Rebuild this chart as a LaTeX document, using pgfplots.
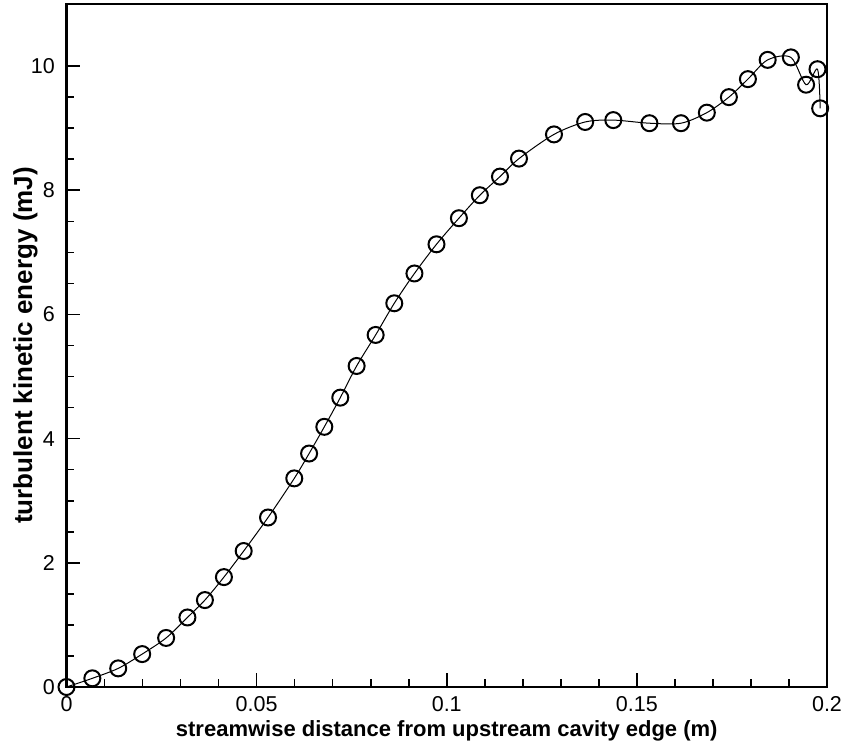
\documentclass[border=0pt]{standalone}
\usepackage{fontspec}
\setmainfont{Liberation Sans}
\usepackage{pgfplots}
\pgfplotsset{compat=1.18}
\begin{document}
\begin{tikzpicture}
\begin{axis}[
  scale only axis,
  width=760.5pt, height=683pt,
  xmin=0, xmax=0.2, ymin=0, ymax=11,
  xtick={0,0.05,0.1,0.15,0.2},
  xticklabels={0,0.05,0.1,0.15,0.2},
  ytick={0,2,4,6,8,10},
  yticklabels={0,2,4,6,8,10},
  minor x tick num=4,
  minor y tick num=3,
  tick align=inside,
  tick pos=left,
  major tick length=14pt,
  minor tick length=8pt,
  tick style={black, line width=1.6pt},
  axis line style={black, line width=2.6pt},
  ticklabel style={font=\fontsize{21.5}{24}\selectfont},
  xticklabel style={anchor=center, inner sep=0pt, yshift=-17pt},
  yticklabel style={anchor=east, inner sep=0pt, xshift=-11.5pt},
  xlabel={\bfseries streamwise distance from upstream cavity edge (m)},
  ylabel={\bfseries turbulent kinetic energy (mJ)},
  xlabel style={font=\fontsize{22}{24}\selectfont, at={(rel axis cs:0.5,0)}, anchor=center, yshift=-44pt},
  ylabel style={font=\fontsize{26}{28}\selectfont, at={(rel axis cs:0,0.5)}, anchor=center, yshift=41pt},
  clip=false,
]
\addplot[black, line width=1pt, smooth, tension=0.5, mark=o, mark size=8pt,
  mark options={line width=2pt, solid}] coordinates {
(0,0)
(0.0068,0.14)
(0.0136,0.30)
(0.0199,0.53)
(0.0262,0.79)
(0.0318,1.12)
(0.0364,1.40)
(0.0414,1.77)
(0.0466,2.19)
(0.0530,2.73)
(0.0599,3.36)
(0.0638,3.76)
(0.0678,4.19)
(0.0720,4.66)
(0.0763,5.17)
(0.0813,5.67)
(0.0862,6.18)
(0.0915,6.66)
(0.0973,7.13)
(0.1032,7.55)
(0.1087,7.92)
(0.1140,8.22)
(0.1190,8.51)
(0.1282,8.90)
(0.1364,9.10)
(0.1438,9.13)
(0.1533,9.08)
(0.1616,9.08)
(0.1684,9.25)
(0.1742,9.50)
(0.1792,9.79)
(0.1844,10.10)
(0.1905,10.14)
(0.1945,9.70)
(0.1975,9.95)
(0.1982,9.32)
};
\coordinate (ll) at (rel axis cs:0,0);
\coordinate (ur) at (rel axis cs:1,1);
\end{axis}
\pgfresetboundingbox
\path ([xshift=-66.5pt,yshift=-60pt]ll) rectangle ([xshift=16pt,yshift=4pt]ur);
\end{tikzpicture}
\end{document}
